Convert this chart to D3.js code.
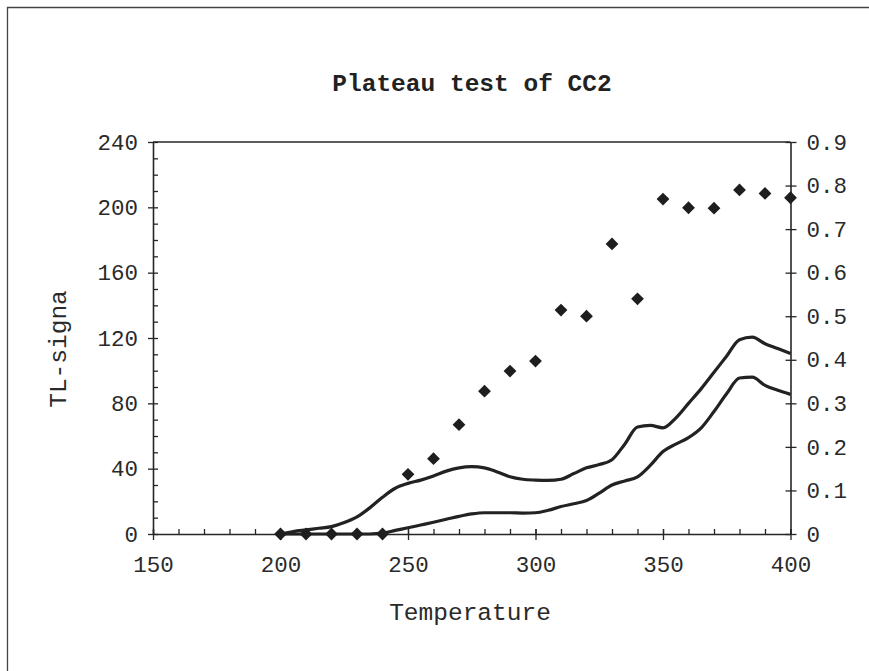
<!DOCTYPE html>
<html><head><meta charset="utf-8">
<script src="https://cdn.jsdelivr.net/npm/d3@7"></script>
<style>html,body{margin:0;padding:0;background:#fff;}svg{display:block;}</style>
</head><body>
<script>
// ---- data ----
const title = "Plateau test of CC2";
const xLabel = "Temperature";
const yLabel = "TL-signa";
const xTicks = [150, 200, 250, 300, 350, 400];
const yLeftTicks = [0, 40, 80, 120, 160, 200, 240];
const yRightTicks = [0, 0.1, 0.2, 0.3, 0.4, 0.5, 0.6, 0.7, 0.8, 0.9];
const yRightTickLabels = ["0", "0.1", "0.2", "0.3", "0.4", "0.5", "0.6", "0.7", "0.8", "0.9"];

const curveTemps = [200,205,210,215,220,225,230,235,240,245,250,255,260,265,270,275,280,285,290,295,300,
                    305,310,315,320,325,330,335,340,345,350,355,360,365,370,375,380,385,390,395,400];
const upperTL = [0,1.5,2.5,3.5,4.5,7,10.5,16,22.5,28,31,33,35.5,38.5,40.5,41.2,40.5,38,35,33.5,33,
                 32.8,33.5,37,40.5,42.5,45.5,55,65.5,66.5,65,71,80,89,99,109,119,120.5,116.5,113.5,110.5];
const lowerTL = [0,0,0,0,0,0,0,0,0.5,2.2,3.8,5.5,7.2,9,10.8,12.3,13,13,13,12.8,13,
                 14.5,16.8,18.5,20.5,25,30,32.5,35,42,50.5,55,59,65,75,86,95.5,96,91,88,85.5];

const ratioTemps = [200,210,220,230,240,250,260,270,280,290,300,310,320,330,340,350,360,370,380,390,400];
const ratioVals  = [0,0,0,0,0,0.137,0.173,0.251,0.328,0.374,0.397,0.514,0.500,0.666,0.540,0.769,0.749,0.748,0.790,0.782,0.772];

// ---- layout ----
const W = 869, H = 671;
const L = 153, R = 790.5, T = 142, B = 534;
const ink = "#262626";
const font = "'Liberation Mono','Courier New',monospace";

const svg = d3.select("body").append("svg").attr("width", W).attr("height", H);
svg.append("rect").attr("width", W).attr("height", H).attr("fill", "#fff");

// outer frame (top & left visible)
svg.append("path").attr("d", `M7.5,${H} V7.5 H${W}`).attr("fill","none").attr("stroke","#444").attr("stroke-width",1.3);

const x = d3.scaleLinear().domain([150, 400]).range([L, R]);
const yL = d3.scaleLinear().domain([0, 240]).range([B, T]);
const yR = d3.scaleLinear().domain([0, 0.9]).range([B, T]);

// top frame line
svg.append("line").attr("x1", L).attr("x2", R).attr("y1", T).attr("y2", T)
  .attr("stroke", ink).attr("stroke-width", 1.5);

// left axis: minor ticks inward
const gLm = svg.append("g").attr("transform", `translate(${L},0)`)
  .call(d3.axisRight(yL).ticks(24).tickSize(5).tickFormat(""));
gLm.select(".domain").remove();
const gL = svg.append("g").attr("transform", `translate(${L},0)`)
  .call(d3.axisLeft(yL).tickValues(yLeftTicks).tickSize(5).tickPadding(10).tickSizeOuter(0));

// x axis: minor ticks inward, major crossing
const gXm = svg.append("g").attr("transform", `translate(0,${B})`)
  .call(d3.axisTop(x).ticks(25).tickSize(5).tickFormat(""));
gXm.select(".domain").remove();
const gX = svg.append("g").attr("transform", `translate(0,${B})`)
  .call(d3.axisBottom(x).tickValues(xTicks).tickSize(6).tickPadding(16).tickSizeOuter(0));
gX.selectAll(".tick line").attr("y1", -5);

// right axis
const gR = svg.append("g").attr("transform", `translate(${R},0)`)
  .call(d3.axisRight(yR).tickValues(yRightTicks).tickSize(6).tickPadding(10).tickSizeOuter(0)
    .tickFormat((d, i) => yRightTickLabels[i]));
gR.selectAll(".tick line").attr("x1", -5);

[gL, gX, gR, gLm, gXm].forEach(g => {
  g.selectAll("line").attr("stroke", ink).attr("stroke-width", 1.3);
  g.selectAll(".domain").attr("stroke", ink).attr("stroke-width", 1.6);
  g.selectAll("text").attr("fill", "#2a2a2a").style("font-family", font).style("font-size", "22.5px");
});

// curves
const line = d3.line().x(d => x(d[0])).y(d => yL(d[1])).curve(d3.curveMonotoneX);
[upperTL, lowerTL].forEach(vals => {
  svg.append("path").datum(curveTemps.map((t, i) => [t, vals[i]]))
    .attr("d", line).attr("fill", "none").attr("stroke", "#222").attr("stroke-width", 3.2)
    .attr("stroke-linejoin", "round");
});

// diamonds
const sym = d3.symbol().type(d3.symbolSquare).size(82);
svg.append("g").selectAll("path").data(ratioTemps.map((t, i) => [t, ratioVals[i]])).join("path")
  .attr("d", sym)
  .attr("transform", d => `translate(${x(d[0])},${yR(d[1])}) rotate(45)`)
  .attr("fill", "#1e1e1e");

// texts
svg.append("text").attr("x", 472).attr("y", 91).attr("text-anchor", "middle")
  .style("font-family", font).style("font-size", "24.5px").style("font-weight", "bold")
  .attr("fill", "#222").text(title);
svg.append("text").attr("x", 470).attr("y", 620).attr("text-anchor", "middle")
  .style("font-family", font).style("font-size", "24.5px").attr("fill", "#2a2a2a").text(xLabel);
svg.append("text").attr("transform", "translate(66,349) rotate(-90)").attr("text-anchor", "middle")
  .style("font-family", font).style("font-size", "24.5px").attr("fill", "#2a2a2a").text(yLabel);
</script>
</body></html>
